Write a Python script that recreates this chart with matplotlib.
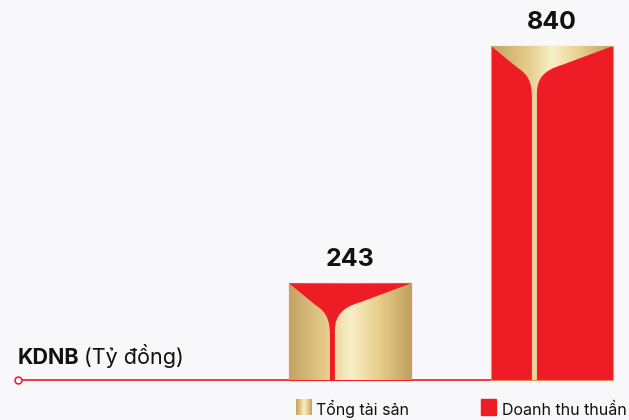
import numpy as np
from matplotlib import pyplot as plt
from matplotlib.path import Path
from matplotlib.patches import PathPatch, Rectangle
from matplotlib.colors import LinearSegmentedColormap

plt.rcParams['font.family'] = ['Inter', 'DejaVu Sans']

# data
categories = ["Tổng tài sản", "Doanh thu thuần"]
values = [243, 840]
unit_bold = "KDNB"
unit_text = "(Tỷ đồng)"

RED = "#ee1c25"
BG = "#f8f7fa"
gold = LinearSegmentedColormap.from_list("gold", [(0, "#c3a264"), (0.28, "#e4c986"), (0.5, "#f8efc8"),
                                                 (0.72, "#e8d08d"), (1, "#c09f60")])
grad = np.linspace(0, 1, 256).reshape(1, -1)

fig = plt.figure(figsize=(6.29, 4.2), dpi=100, facecolor=BG)
ax = fig.add_axes([0, 0, 1, 1])
ax.set_facecolor(BG)
XLIM = (-1.733, 1.381)
YLIM = (-100.6, 955.7)
px = (YLIM[1] - YLIM[0]) / 420.0   # data units per pixel (y)
w = 0.604

def tulip(x0, top):
    # flower shape at the top of a bar, u across the bar, v pixels down from top
    X = lambda u: x0 + u * w
    Y = lambda v: top - v * px
    verts = [(X(0), Y(0)), (X(0.22), Y(22)),
             (X(0.31), Y(29)), (X(0.335), Y(37)), (X(0.335), Y(53)),
             (X(0.335), 0), (X(0.376), 0), (X(0.376), Y(47)),
             (X(0.376), Y(32)), (X(0.44), Y(24)), (X(0.58), Y(19)),
             (X(1), Y(0)), (X(0), Y(0))]
    codes = [Path.MOVETO, Path.LINETO, Path.CURVE4, Path.CURVE4, Path.CURVE4,
             Path.LINETO, Path.LINETO, Path.LINETO, Path.CURVE4, Path.CURVE4, Path.CURVE4,
             Path.LINETO, Path.CLOSEPOLY]
    return Path(verts, codes)

# baseline
x_start = XLIM[0] + 18 / 202.0
ax.plot([x_start, 1], [0, 0], color=RED, lw=1.2, zorder=1)
ax.plot(x_start, 0, 'o', mfc=BG, mec=RED, ms=5, mew=1.1, zorder=2)

# bar 1: gold with red tulip
b1 = ax.bar(0, values[0], width=w, color='none', edgecolor=RED, lw=0.8, zorder=3)[0]
x0 = 0 - w / 2
im = ax.imshow(grad, cmap=gold, aspect='auto', extent=(x0, x0 + w, 0, values[0]), zorder=3)
im.set_clip_path(b1)
ax.add_patch(PathPatch(tulip(x0, values[0]), facecolor=RED, edgecolor='none', zorder=4))

# bar 2: red with gold tulip
b2 = ax.bar(1, values[1], width=w, color=RED, edgecolor='#ea8a5a', lw=0.8, zorder=3)[0]
x0 = 1 - w / 2
tp = PathPatch(tulip(x0, values[1]), facecolor='none', edgecolor='none', zorder=4)
ax.add_patch(tp)
im2 = ax.imshow(grad, cmap=gold, aspect='auto', extent=(x0, x0 + w, 0, values[1]), zorder=4)
im2.set_clip_path(tp)

for i, v in enumerate(values):
    ax.annotate(str(v), (i, v), xytext=(0, 17), textcoords='offset points', ha='center', va='center',
                fontsize=18, fontweight='bold', color='#111111')

ax.set_xlim(*XLIM)
ax.set_ylim(*YLIM)
ax.axis('off')

# unit label
t1 = fig.text(18 / 629, 1 - 364 / 420, unit_bold, fontsize=15.5, fontweight='bold', va='baseline', color='#111111')
ax.annotate(unit_text, xy=(1, 0), xycoords=t1, xytext=(4, 0), textcoords='offset pixels',
            va='bottom', ha='left', fontsize=15.5, color='#111111')

# legend
lax = fig.add_axes([296 / 629, 1 - 415 / 420, 15.5 / 629, 16 / 420])
lax.imshow(grad, cmap=gold, aspect='auto')
lax.axis('off')
fig.text(316 / 629, 1 - 415 / 420, categories[0], fontsize=11.5, va='baseline', color='#111111')
fig.add_artist(Rectangle((481 / 629, 1 - 415 / 420), 15.5 / 629, 16 / 420, transform=fig.transFigure,
                         color=RED))
fig.text(502 / 629, 1 - 415 / 420, categories[1], fontsize=11.5, va='baseline', color='#111111')

fig.savefig("out.png", dpi=100, facecolor=BG)
